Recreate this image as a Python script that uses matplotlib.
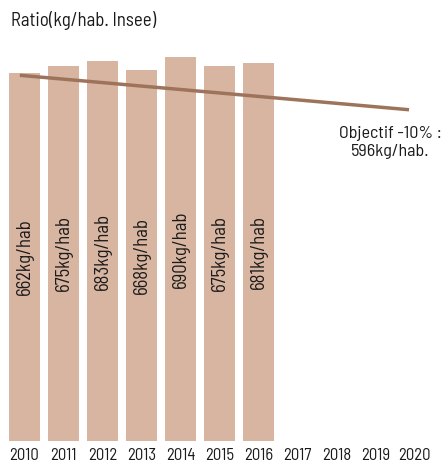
import matplotlib
matplotlib.use("Agg")
import matplotlib.pyplot as plt
from matplotlib import font_manager

years = [2010, 2011, 2012, 2013, 2014, 2015, 2016, 2017, 2018, 2019, 2020]
ratio_years = [2010, 2011, 2012, 2013, 2014, 2015, 2016]
ratio_values = [662, 675, 683, 668, 690, 675, 681]
target_start = 658
target_end = 596

# narrow DIN-like face if one is around
names = {f.name for f in font_manager.fontManager.ttflist}
wanted = ["Barlow Semi Condensed", "Barlow Condensed", "Roboto Condensed",
          "Saira Semi Condensed", "Encode Sans Semi Condensed", "Liberation Sans Narrow"]
font = next((n for n in wanted if n in names), "DejaVu Sans")
plt.rcParams['font.family'] = [font, 'DejaVu Sans']

bar_color = "#d8b5a1"
line_color = "#9e735c"
text_color = "#1a1a1a"

fig = plt.figure(figsize=(4.45, 4.61), dpi=100)
ax = fig.add_axes([0, 20 / 461, 1, 441 / 461])

xs = [years.index(y) for y in ratio_years]
ax.bar(xs, ratio_values, width=0.8, color=bar_color, zorder=1)

for x, v in zip(xs, ratio_values):
    ax.text(x, v / 2, f"{v}kg/hab", rotation=90, ha="center", va="center",
            fontsize=13.5, color=text_color, zorder=3)

ax.plot([-0.12, len(years) - 1 - 0.14], [target_start, target_end],
        color=line_color, lw=2.5, solid_capstyle="butt", zorder=2)

ax.text(9.38, 537, "Objectif -10% :\n596kg/hab.", ha="center", va="center",
        fontsize=13, color=text_color, linespacing=1.2)

ax.set_xlim(-24.5 / 39, (445 - 24.5) / 39)
ax.set_ylim(0, 441 / 0.5558)
ax.axis("off")

for i, y in enumerate(years):
    fig.text((24.5 + 39 * i) / 445, 1.5 / 461, str(y), ha="center", va="baseline",
             fontsize=12, color=text_color)

fig.text(11 / 445, 1 - 20 / 461, "Ratio(kg/hab. Insee)", ha="left", va="center",
         fontsize=13.5, color=text_color)

fig.savefig("out.png", dpi=100)
